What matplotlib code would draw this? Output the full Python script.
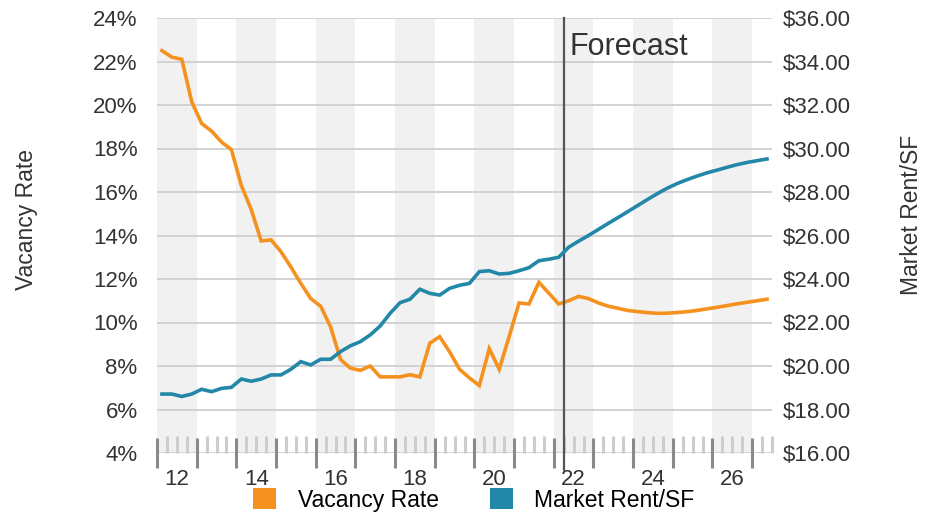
import numpy as np
import matplotlib
matplotlib.use("Agg")
import matplotlib.pyplot as plt
from matplotlib.patches import Patch

plt.rcParams['font.family'] = ['Liberation Sans', 'DejaVu Sans']

# quarterly series, 2012 Q1 .. 2027 Q2 (forecast starts 2022 Q2)
vacancy_hist = [22.5, 22.2, 22.1, 20.15, 19.15, 18.8, 18.3, 17.95, 16.3, 15.2,
                13.75, 13.8, 13.25, 12.55, 11.8, 11.1, 10.75, 9.8, 8.3, 7.9,
                7.8, 8.0, 7.5, 7.5, 7.5, 7.6, 7.5, 9.05, 9.35, 8.65,
                7.85, 7.45, 7.1, 8.8, 7.85, 9.35, 10.9, 10.85, 11.85, 11.35,
                10.85]
vacancy_fcst = [11.0, 11.2, 11.1, 10.9, 10.75, 10.65, 10.55, 10.5, 10.45, 10.42,
                10.43, 10.46, 10.5, 10.56, 10.63, 10.7, 10.78, 10.86, 10.93, 11.0,
                11.07]
rent_hist = [18.71, 18.71, 18.6, 18.71, 18.93, 18.82, 18.97, 19.02, 19.4, 19.3,
             19.4, 19.59, 19.59, 19.85, 20.2, 20.05, 20.31, 20.31, 20.66, 20.93,
             21.12, 21.43, 21.84, 22.42, 22.91, 23.07, 23.53, 23.34, 23.26, 23.57,
             23.71, 23.8, 24.34, 24.38, 24.23, 24.26, 24.38, 24.52, 24.84, 24.91,
             25.0]
rent_fcst = [25.46, 25.74, 26.0, 26.28, 26.56, 26.83, 27.11, 27.39, 27.67, 27.94,
             28.19, 28.4, 28.58, 28.74, 28.89, 29.01, 29.14, 29.26, 29.36, 29.44,
             29.52]
year_labels = ['12', '14', '16', '18', '20', '22', '24', '26']
forecast_start = 2022.25

vacancy = vacancy_hist + vacancy_fcst
rent = rent_hist + rent_fcst
t = 2012 + (np.arange(len(vacancy)) + 0.5) / 4

ORANGE = '#f5921f'
BLUE = '#2388a7'
TXT = '#333333'

fig = plt.figure(figsize=(9.4, 5.16), dpi=100)
ax = fig.add_axes([157/940, 63/516, 615/940, 435/516])
ax2 = ax.twinx()

ax.set_xlim(2012, 2027.5)
ax.set_ylim(4, 24)
ax2.set_ylim(16, 36)

# alternating year bands
for y in range(2012, 2028, 2):
    ax.axvspan(y, y + 1, color='#f1f1f1', zorder=0, lw=0)

for v in range(4, 25, 2):
    ax.axhline(v, color='#cfcfcf', lw=1.3, zorder=1)

for a in (ax, ax2):
    for s in a.spines.values():
        s.set_visible(False)

ax.plot(t, vacancy, color=ORANGE, lw=2.6, zorder=3, solid_joinstyle='miter')
ax2.plot(t, rent, color=BLUE, lw=2.6, zorder=3, solid_joinstyle='miter')

# forecast marker
ax.plot([forecast_start, forecast_start], [-0.04, 1.0], color='#555555', lw=1.6,
        transform=ax.get_xaxis_transform(), clip_on=False, zorder=4)
ax.text(forecast_start + 0.15, 22.3, 'Forecast', fontsize=22, color=TXT, va='baseline')

# y axes
ax.set_yticks(range(4, 25, 2))
ax.set_yticklabels([f'{v}%' for v in range(4, 25, 2)])
ax.tick_params(axis='y', length=0, pad=14, labelsize=16, labelcolor=TXT)
ax2.set_yticks(range(16, 37, 2))
ax2.set_yticklabels([f'${v:.2f}' for v in range(16, 37, 2)])
ax2.tick_params(axis='y', length=0, pad=8, labelsize=16, labelcolor=TXT)

# x axis: year ticks + quarter ticks, labels centered on years
ax.set_xticks(np.arange(2012, 2028, 1))
ax.set_xticks(np.arange(2012, 2027.6, 0.25), minor=True)
ax.set_xticklabels([])
ax.tick_params(axis='x', which='major', direction='inout', length=22, width=2.2, color='#8a8a8a')
ax.tick_params(axis='x', which='minor', direction='in', length=12, width=2.2, color='#cdcdcd')
for i, lab in enumerate(year_labels):
    ax.text(2012.5 + 2 * i, -0.06, lab, transform=ax.get_xaxis_transform(),
            ha='center', va='center', fontsize=16, color=TXT)

fig.text(27/940, 1 - 220/516, 'Vacancy Rate', rotation=90, ha='center', va='center',
         fontsize=16.5, color=TXT)
fig.text(912/940, 1 - 215/516, 'Market Rent/SF', rotation=90, ha='center', va='center',
         fontsize=16.5, color=TXT)

handles = [Patch(facecolor=ORANGE, edgecolor='none', label='Vacancy Rate'),
           Patch(facecolor=BLUE, edgecolor='none', label='Market Rent/SF')]
fig.legend(handles=handles, loc='center', bbox_to_anchor=(474/940, 1 - 500/516), ncol=2,
           frameon=False, fontsize=16.5, handlelength=1.0, handleheight=1.0,
           handletextpad=0.95, columnspacing=2.2, borderpad=0, borderaxespad=0)

fig.savefig('out.png', dpi=100)
